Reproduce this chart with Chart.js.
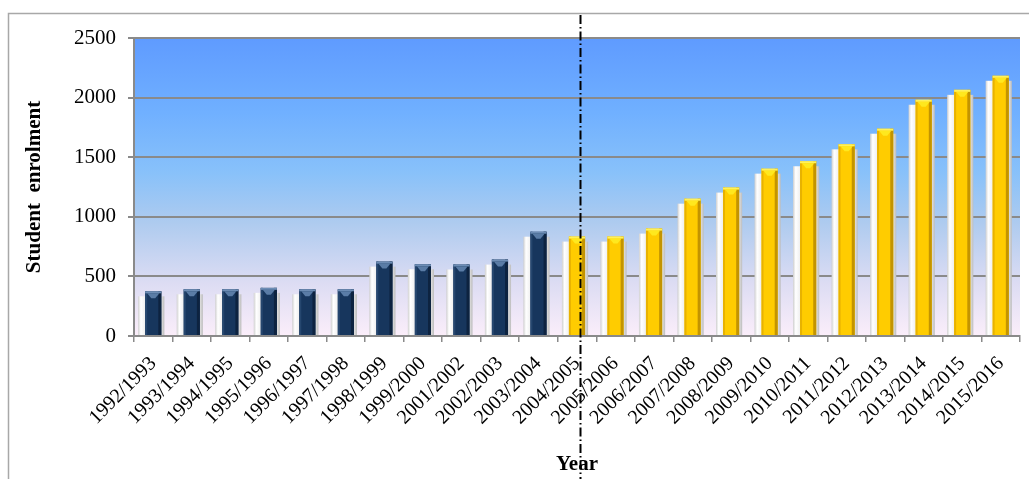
<!DOCTYPE html>
<html>
<head>
<meta charset="utf-8">
<script src="https://cdn.jsdelivr.net/npm/chart.js@4"></script>
<style>
  html, body { margin: 0; padding: 0; background: #ffffff; }
  #wrap { width: 1029px; height: 479px; position: relative; }
</style>
</head>
<body>
<div id="wrap"><canvas id="enrolChart" width="1029" height="479"></canvas></div>
<script>
const years = ['1992/1993', '1993/1994', '1994/1995', '1995/1996', '1996/1997', '1997/1998',
    '1998/1999', '1999/2000', '2001/2002', '2002/2003', '2003/2004', '2004/2005',
    '2005/2006', '2006/2007', '2007/2008', '2008/2009', '2009/2010', '2010/2011',
    '2011/2012', '2012/2013', '2013/2014', '2014/2015', '2015/2016'];
const enrolment = [375, 392, 392, 404, 392, 392, 624, 602, 600, 641, 875, 834,
    834, 901, 1152, 1245, 1404, 1466, 1608, 1739, 1982, 2065, 2183];
const yTicks = [0, 500, 1000, 1500, 2000, 2500];
const splitYear = '2004/2005';

const splitIndex = years.indexOf(splitYear);
const NAVY = '#17365d';
const GOLD = '#ffcc00';

function isLater(i) {
    return i >= splitIndex;
}

// background, frame and the dash-dot divider
const backdrop = {
    id: 'backdrop',
    beforeDraw(chart) {
        const { ctx, chartArea } = chart;
        const g = ctx.createLinearGradient(0, chartArea.top, 0, chartArea.bottom);
        g.addColorStop(0, '#5f9bff');
        g.addColorStop(0.25, '#70b0ff');
        g.addColorStop(0.45, '#88c1fa');
        g.addColorStop(0.62, '#aecbef');
        g.addColorStop(0.82, '#dcdcf3');
        g.addColorStop(1, '#fbeefa');
        ctx.save();
        ctx.fillStyle = g;
        ctx.fillRect(chartArea.left, chartArea.top, chartArea.right - chartArea.left, chartArea.bottom - chartArea.top);
        ctx.strokeStyle = '#a8a8a8';
        ctx.lineWidth = 1.5;
        ctx.strokeRect(8.5, 13.5, chart.width + 20, chart.height + 20);
        ctx.restore();
    },
    beforeDatasetsDraw(chart) {
        const { ctx } = chart;
        const meta = chart.getDatasetMeta(0);
        ctx.save();
        meta.data.forEach(bar => {
            const w = bar.width;
            const left = bar.x - w / 2;
            const right = bar.x + w / 2;
            const top = bar.y + 5;
            const g = ctx.createLinearGradient(left - 7, 0, right + 3, 0);
            g.addColorStop(0, '#cfcfcf');
            g.addColorStop(0.1, '#ffffff');
            g.addColorStop(0.3, '#ececec');
            g.addColorStop(0.9, '#dcdcdc');
            g.addColorStop(1, '#bdbdbd');
            ctx.fillStyle = g;
            ctx.fillRect(left - 7, top, w + 10, bar.base - top);
        });
        ctx.restore();
    },
    afterDatasetsDraw(chart) {
        const { ctx } = chart;
        const meta = chart.getDatasetMeta(0);
        ctx.save();
        meta.data.forEach((bar, i) => {
            const w = bar.width;
            const left = bar.x - w / 2;
            const right = bar.x + w / 2;
            const y = bar.y;
            const h = bar.base - y;
            const later = isLater(i);
            ctx.fillStyle = later ? '#e8b200' : '#26476f';
            ctx.fillRect(left, y, 2, h);
            ctx.fillStyle = later ? '#c39400' : '#0d2340';
            ctx.fillRect(right - 3, y, 3, h);
            ctx.fillStyle = later ? '#fff25a' : '#6d8db5';
            ctx.fillRect(left, y, w, 2);
            ctx.fillStyle = later ? '#ffe81e' : '#5a7ca6';
            ctx.beginPath();
            ctx.moveTo(left + 2, y + 2);
            ctx.lineTo(right - 2, y + 2);
            ctx.lineTo(bar.x + 2, y + 7);
            ctx.lineTo(bar.x - 2, y + 7);
            ctx.closePath();
            ctx.fill();
        });

        // divider between the two periods
        const x = Math.round(chart.scales.x.getPixelForValue(splitIndex)) + 3.5;
        ctx.strokeStyle = '#000000';
        ctx.lineWidth = 2;
        ctx.setLineDash([9, 3, 1.5, 3]);
        ctx.beginPath();
        ctx.moveTo(x, 15);
        ctx.lineTo(x, chart.height);
        ctx.stroke();
        ctx.restore();
    }
};

const ctx = document.getElementById('enrolChart').getContext('2d');
new Chart(ctx, {
    type: 'bar',
    data: {
        labels: years,
        datasets: [{
            data: enrolment,
            backgroundColor: years.map((y, i) => isLater(i) ? GOLD : NAVY),
            borderWidth: 0,
            barPercentage: 0.42,
            categoryPercentage: 1
        }]
    },
    options: {
        responsive: false,
        animation: false,
        events: [],
        layout: { padding: { left: 0, right: 9, top: 38, bottom: 0 } },
        plugins: { legend: { display: false }, tooltip: { enabled: false } },
        scales: {
            x: {
                afterFit: s => { s.height = 143; },
                grid: { display: true, drawOnChartArea: false, color: '#8a8a8a', lineWidth: 1.5, tickLength: 6 },
                border: { color: '#8a8a8a', width: 2 },
                ticks: {
                    color: '#000000',
                    font: { family: 'Liberation Serif', size: 20 },
                    maxRotation: 45, minRotation: 45, autoSkip: false, padding: 10
                },
                title: {
                    display: true, text: 'Year', color: '#000000',
                    font: { family: 'Liberation Serif', size: 21, weight: 'bold' },
                    padding: { top: 0, bottom: 2 }
                }
            },
            y: {
                min: 0,
                max: 2500,
                afterFit: s => { s.width = 134; },
                afterBuildTicks: s => { s.ticks = yTicks.map(v => ({ value: v })); },
                grid: { color: '#8a8a8a', lineWidth: 2, tickLength: 6 },
                border: { color: '#8a8a8a', width: 2 },
                ticks: {
                    color: '#000000',
                    font: { family: 'Liberation Serif', size: 21 },
                    padding: 12,
                    callback: v => String(v)
                },
                title: {
                    display: true, text: 'Student  enrolment', color: '#000000',
                    font: { family: 'Liberation Serif', size: 21, weight: 'bold' },
                    padding: { top: 22, bottom: 0 }
                }
            }
        }
    },
    plugins: [backdrop]
});
</script>
</body>
</html>
